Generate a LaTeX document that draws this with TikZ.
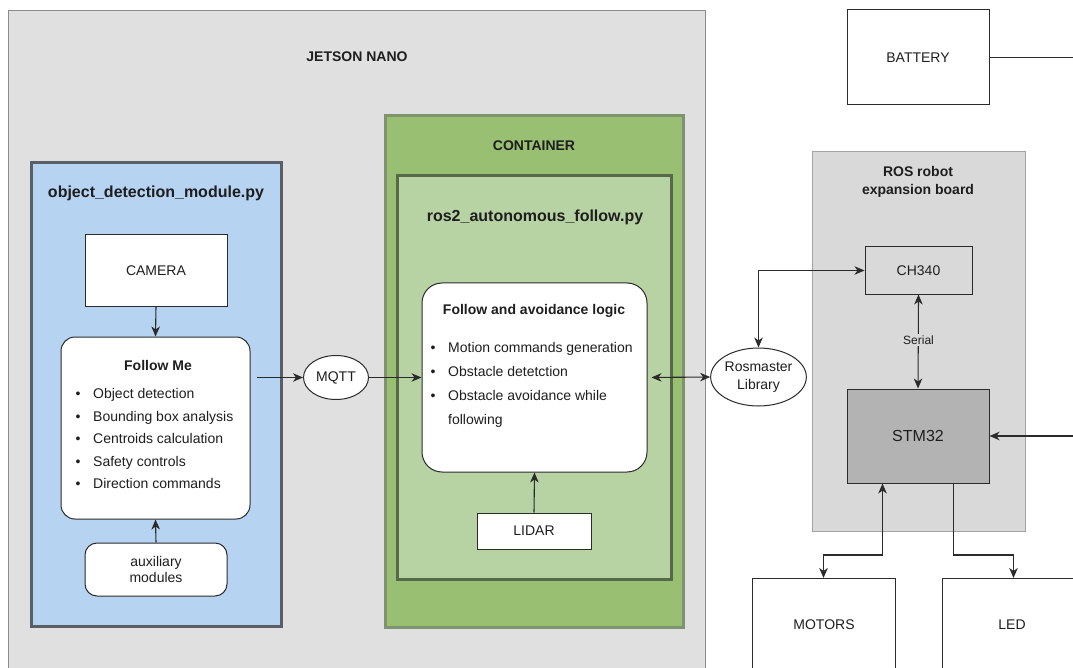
\documentclass[tikz,border=0pt]{standalone}
\usepackage{fontspec}
\setmainfont{Liberation Sans}
\usetikzlibrary{arrows.meta,shapes.geometric,calc}
\definecolor{jetfill}{HTML}{E0E0E0}
\definecolor{jetline}{HTML}{8C8C8C}
\definecolor{bluefill}{HTML}{B6D4F2}
\definecolor{blueline}{HTML}{5A5F66}
\definecolor{gfill}{HTML}{98BF72}
\definecolor{gline}{HTML}{7E9470}
\definecolor{ginfill}{HTML}{B7D3A4}
\definecolor{ginline}{HTML}{56694A}
\definecolor{boardfill}{HTML}{D9D9D9}
\definecolor{boardline}{HTML}{A3A3A3}
\definecolor{stmfill}{HTML}{B3B3B3}
\definecolor{linec}{HTML}{2B2B2B}
\definecolor{textc}{HTML}{1E1E1E}
\newcommand{\blt}{\makebox[17.5pt][l]{\textbullet}}
\begin{document}
\begin{tikzpicture}[x=1pt,y=-1pt,
  txt/.style={font=\fontsize{14}{16}\selectfont, text=textc},
  plainbox/.style={draw=linec, line width=1pt, fill=white, inner sep=0pt, txt},
  rbox/.style={plainbox, rounded corners=14pt},
  title/.style={font=\fontsize{16}{18}\bfseries\selectfont, text=textc, inner sep=0pt},
  boldlabel/.style={font=\fontsize{14}{18}\bfseries\selectfont, text=textc, inner sep=0pt, align=center},
  bullets/.style={inner sep=0pt, align=left, text=textc},
  con/.style={draw=linec, line width=1.1pt},
  arr/.style={con, -{Stealth[length=10pt,width=8.5pt,inset=3pt]}},
  darr/.style={con, {Stealth[length=10pt,width=8.5pt,inset=3pt]}-{Stealth[length=10pt,width=8.5pt,inset=3pt]}}
]
\useasboundingbox (0,0) rectangle (1073,668);
\clip (0,0) rectangle (1073,668);
\fill[white] (0,0) rectangle (1073,668);

% Jetson Nano
\node[draw=jetline, fill=jetfill, line width=1pt, inner sep=0pt, minimum width=697pt, minimum height=720pt, anchor=north west] (jetson) at (8,10) {};
\node[boldlabel] (jetlbl) at (357,57) {JETSON NANO};

% object detection module
\node[draw=blueline, fill=bluefill, line width=3pt, inner sep=0pt, minimum width=250pt, minimum height=463pt] (odm) at (156,394.5) {};
\node[title] (odmlbl) at (156,193) {object\_detection\_module.py};
\node[plainbox, minimum width=142pt, minimum height=71pt] (cam) at (156,270.5) {CAMERA};
\node[rbox, minimum width=189pt, minimum height=182pt] (fm) at (155.5,428) {};
\node[boldlabel] (fmlbl) at (158,365) {Follow Me};
\node[bullets, anchor=west, font=\fontsize{14}{22.5}\selectfont] (fmlist) at (75.5,438.5)
  {\blt Object detection\\\blt Bounding box analysis\\\blt Centroids calculation\\\blt Safety controls\\\blt Direction commands};
\node[rbox, rounded corners=12pt, minimum width=142pt, minimum height=53pt, align=center, font=\fontsize{14}{16}\selectfont] (aux) at (156,569.5) {auxiliary\\modules};

% MQTT
\node[draw=linec, line width=1pt, fill=white, ellipse, inner sep=0pt, minimum width=65pt, minimum height=44pt, txt] (mqtt) at (336,377.5) {MQTT};

% Container
\node[draw=gline, fill=gfill, line width=3pt, inner sep=0pt, minimum width=298pt, minimum height=511pt] (cont) at (534,371.5) {};
\node[boldlabel] (contlbl) at (534,146) {CONTAINER};
\node[draw=ginline, fill=ginfill, line width=3pt, inner sep=0pt, minimum width=274pt, minimum height=403pt] (ros2) at (534,377.5) {};
\node[title] (ros2lbl) at (535,217) {ros2\_autonomous\_follow.py};
\node[rbox, rounded corners=20pt, minimum width=225pt, minimum height=189pt] (fal) at (534.5,377.5) {};
\node[boldlabel] (fallbl) at (534,311) {Follow and avoidance logic};
\node[bullets, anchor=west, font=\fontsize{14}{24}\selectfont] (fallist) at (430.5,384.5)
  {\blt Motion commands generation\\\blt Obstacle detetction\\\blt Obstacle avoidance while\\\hspace*{17.5pt}following};
\node[plainbox, minimum width=114pt, minimum height=36pt] (lidar) at (534,531) {LIDAR};

% Rosmaster
\node[draw=linec, line width=1pt, fill=white, ellipse, inner sep=0pt, minimum width=83pt, minimum height=58pt, align=center, font=\fontsize{14}{18}\selectfont, text=textc] (rosm) at (758.5,377) {Rosmaster\\Library};

% Battery
\node[plainbox, minimum width=142pt, minimum height=95pt] (bat) at (918,57.5) {BATTERY};

% ROS board
\node[draw=boardline, fill=boardfill, line width=1pt, inner sep=0pt, minimum width=213pt, minimum height=379pt] (board) at (918.5,341.5) {};
\node[boldlabel] (boardlbl) at (918,182) {ROS robot\\expansion board};
\node[plainbox, fill=boardfill, minimum width=107pt, minimum height=47pt] (ch) at (918.5,270.5) {CH340};
\node[plainbox, fill=stmfill, minimum width=142pt, minimum height=94pt, font=\fontsize{16}{18}\selectfont] (stm) at (918,436) {STM32};

% Motors, LED
\node[plainbox, minimum width=143pt, minimum height=150pt, anchor=north] (mot) at (823.5,578) {};
\node[txt, inner sep=0pt] (motlbl) at (824,625) {MOTORS};
\node[plainbox, minimum width=143pt, minimum height=150pt, anchor=north] (led) at (1013.5,578) {};
\node[txt, inner sep=0pt] (ledlbl) at (1012,625) {LED};

% connectors
\draw[arr] (cam.south) -- (fm.north);
\draw[arr] (aux.north) -- (fm.south);
\draw[arr, shorten <=6pt] (mqtt.west -| fm.east) -- (mqtt.west);
\draw[arr] (mqtt.east) -- (mqtt.east -| fal.west);
\draw[darr, shorten <=4pt] (fal.east) -- (rosm.west);
\draw[darr] (rosm.north) |- (ch.west);
\draw[darr] (ch.south) -- (stm.north);
\node[fill=boardfill, inner sep=1.5pt, font=\fontsize{12}{14}\selectfont, text=textc] (serial) at (918.5,340) {Serial};
\draw[arr] (lidar.north) -- (fal.south);
\draw[arr] (bat.east) -- ++(120,0) |- (stm.east);
\draw[darr] ([xshift=36pt]stm.south west) |- ([yshift=23pt]mot.north) -- (mot.north);
\draw[arr] ([xshift=107pt]stm.south west) |- ([yshift=23pt]led.north) -- (led.north);
\end{tikzpicture}
\end{document}
